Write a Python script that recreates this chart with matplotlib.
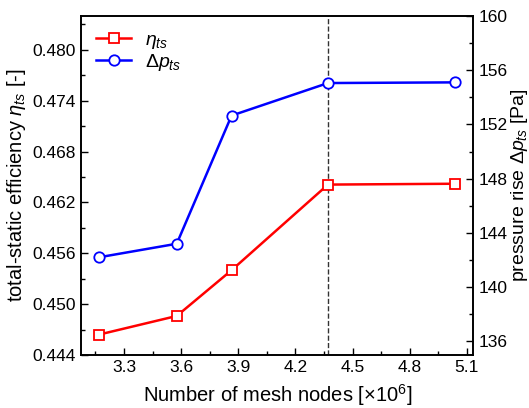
import matplotlib.pyplot as plt
from matplotlib.ticker import MultipleLocator
from matplotlib.lines import Line2D

plt.rcParams['font.family'] = ['Liberation Sans', 'DejaVu Sans']
plt.rcParams['mathtext.fontset'] = 'custom'
plt.rcParams['mathtext.rm'] = 'Liberation Sans'
plt.rcParams['mathtext.it'] = 'Liberation Sans:italic'

# mesh nodes [x10^6]
nodes = [3.168, 3.577, 3.865, 4.371, 5.037]
# total-static efficiency
eta_ts = [0.4464, 0.4486, 0.4540, 0.4641, 0.4642]
# pressure rise [Pa]
dp_ts = [142.2, 143.2, 152.65, 155.05, 155.1]
chosen_mesh = 4.371

fig = plt.figure(figsize=(5.29, 4.08), dpi=100)
ax = fig.add_axes([0.153, 0.130, 0.742, 0.831])
ax2 = ax.twinx()

ax.plot(nodes, eta_ts, color='red', lw=1.8, marker='s', ms=7.5,
        mfc='white', mec='red', mew=1.3, zorder=3)
ax2.plot(nodes, dp_ts, color='blue', lw=1.8, marker='o', ms=7.5,
         mfc='white', mec='blue', mew=1.3, zorder=3)
ax.axvline(chosen_mesh, color='#333333', ls='--', lw=1.0, zorder=1)

ax.set_xlim(3.074, 5.135)
ax.set_ylim(0.444, 0.484)
ax2.set_ylim(135, 160)

ax.xaxis.set_major_locator(MultipleLocator(0.3))
ax.xaxis.set_minor_locator(MultipleLocator(0.15))
ax.yaxis.set_major_locator(MultipleLocator(0.006))
ax.yaxis.set_minor_locator(MultipleLocator(0.003))
ax2.yaxis.set_major_locator(MultipleLocator(4))
ax2.yaxis.set_minor_locator(MultipleLocator(2))
ax.yaxis.set_major_formatter(plt.FormatStrFormatter('%.3f'))
ax.xaxis.set_major_formatter(plt.FormatStrFormatter('%.1f'))

for a in (ax, ax2):
    a.tick_params(which='both', direction='in', labelsize=12.5, width=1)
    a.tick_params(which='major', length=5)
    a.tick_params(which='minor', length=3)
    for s in a.spines.values():
        s.set_linewidth(1.2)
ax.tick_params(axis='y', which='both', right=False)

ax.set_xlabel(r'Number of mesh nodes [$\times$10$^6$]', fontsize=14.5, labelpad=5)
ax.set_ylabel(r'total-static efficiency $\eta_{ts}$ [-]', fontsize=14.5, labelpad=3)
ax2.set_ylabel(r'pressure rise $\Delta p_{ts}$ [Pa]', fontsize=14, labelpad=1)

handles = [
    Line2D([], [], color='red', lw=1.8, marker='s', ms=7.5, mfc='white', mec='red', mew=1.3),
    Line2D([], [], color='blue', lw=1.8, marker='o', ms=7.5, mfc='white', mec='blue', mew=1.3),
]
ax.legend(handles, [r'$\eta_{ts}$', r'$\Delta p_{ts}$'], loc='upper left',
          frameon=False, fontsize=14, handlelength=1.8, labelspacing=0.05,
          borderaxespad=0.4, handletextpad=0.7)

fig.savefig('out.png', dpi=100)
